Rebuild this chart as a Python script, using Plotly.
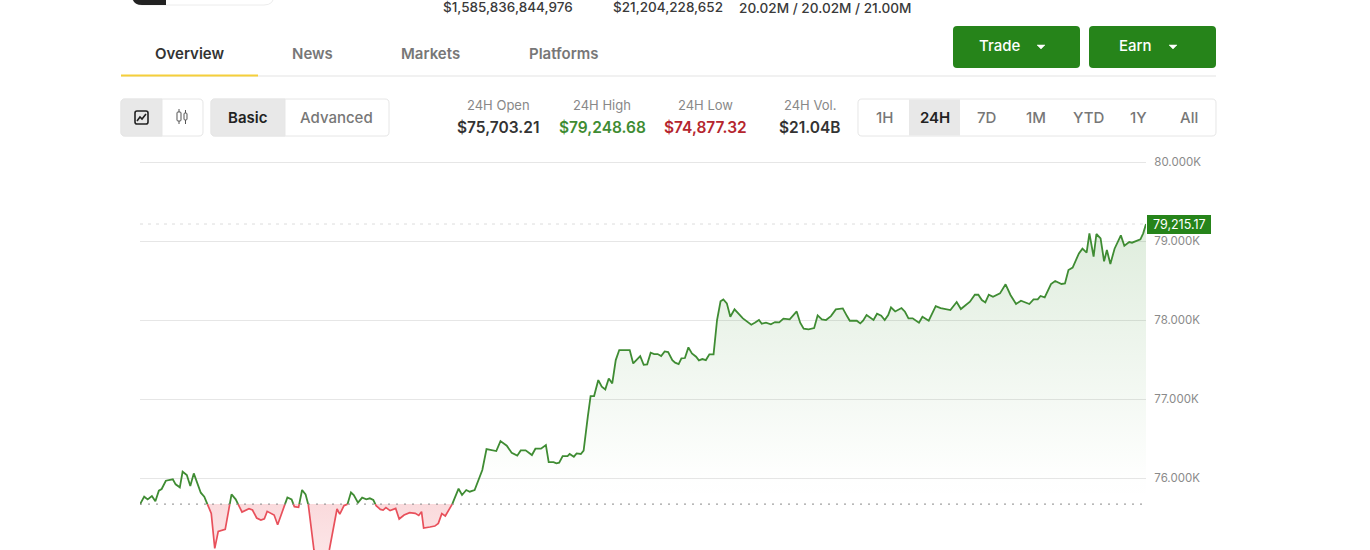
import plotly.graph_objects as go

# minutes since the start of the 24h window
minutes = [0, 6, 11, 17, 22, 27, 31, 37, 47, 51, 57, 61, 67, 72, 77, 87, 92, 96, 102, 107,
           112, 122, 131, 137, 146, 156, 161, 167, 173, 178, 182, 192, 197, 211, 217, 221, 227, 232, 237, 241,
           249, 253, 265, 271, 282, 286, 292, 297, 302, 306, 312, 318, 324, 329, 334, 338, 344, 348, 352, 358,
           366, 371, 378, 386, 394, 399, 403, 406, 415, 422, 427, 432, 437, 446, 456, 461, 467, 472, 479, 490,
           496, 510, 516, 525, 532, 540, 545, 552, 561, 566, 574, 581, 585, 592, 596, 600, 605, 612, 615, 621,
           625, 631, 635, 641, 645, 650, 656, 661, 666, 671, 676, 681, 686, 701, 706, 716, 721, 726, 731, 736,
           741, 746, 751, 756, 762, 766, 771, 775, 780, 785, 790, 796, 800, 805, 810, 815, 821, 826, 831, 835,
           840, 845, 851, 863, 875, 880, 886, 890, 896, 903, 909, 915, 921, 930, 940, 945, 950, 957, 965, 970,
           976, 982, 989, 996, 1006, 1012, 1016, 1026, 1031, 1035, 1040, 1050, 1055, 1061, 1066, 1071, 1075, 1081, 1090, 1095,
           1100, 1106, 1115, 1120, 1129, 1139, 1146, 1160, 1169, 1175, 1188, 1195, 1200, 1205, 1210, 1215, 1221, 1231, 1239, 1246,
           1254, 1261, 1273, 1279, 1285, 1289, 1295, 1304, 1310, 1319, 1324, 1329, 1335, 1344, 1349, 1355, 1359, 1365, 1369, 1375,
           1380, 1384, 1389, 1395, 1404, 1409, 1416, 1420, 1428, 1432, 1436, 1440]
prices = [75667, 75764, 75730, 75772, 75705, 75840, 75861, 75966, 75983, 75920, 75882, 76080, 76038, 75899, 76059, 75814, 75764, 75679, 75553, 75110,
          75325, 75350, 75793, 75730, 75570, 75612, 75595, 75494, 75468, 75485, 75578, 75532, 75409, 75755, 75730, 75637, 75629, 75848, 75793, 75658,
          75089, 74877, 74877, 75089, 75608, 75544, 75650, 75667, 75819, 75785, 75688, 75751, 75730, 75743, 75722, 75650, 75603, 75595, 75625, 75587,
          75616, 75481, 75532, 75561, 75553, 75527, 75574, 75367, 75380, 75392, 75426, 75549, 75519, 75650, 75865, 75785, 75848, 75827, 75848, 76101,
          76367, 76342, 76468, 76409, 76320, 76283, 76350, 76350, 76291, 76371, 76371, 76418, 76202, 76202, 76186, 76194, 76278, 76278, 76304, 76270,
          76312, 76304, 76346, 76776, 77038, 77038, 77240, 77156, 77122, 77261, 77198, 77493, 77620, 77620, 77451, 77544, 77434, 77439, 77586, 77569,
          77569, 77544, 77603, 77595, 77493, 77460, 77443, 77515, 77519, 77654, 77578, 77536, 77489, 77506, 77493, 77565, 77565, 78000, 78236, 78261,
          78211, 78042, 78135, 78021, 77941, 77966, 78000, 77953, 77966, 77945, 77974, 77970, 78017, 78008, 78109, 77966, 77890, 77882, 77898, 78059,
          78008, 78000, 78050, 78135, 78147, 78050, 77991, 77991, 77957, 77991, 78063, 78000, 78080, 78055, 78000, 78063, 78160, 78109, 78152, 78105,
          78021, 78021, 77966, 78042, 77991, 78177, 78152, 78126, 78228, 78139, 78232, 78320, 78320, 78253, 78223, 78320, 78295, 78337, 78452, 78317,
          78203, 78245, 78203, 78262, 78262, 78304, 78287, 78456, 78494, 78456, 78464, 78633, 78663, 78844, 78903, 78852, 79097, 78802, 79089, 79034,
          78743, 78886, 78709, 78903, 79072, 78941, 78987, 78979, 79013, 79021, 79097, 79215]

open_price = 75670
last_price = 79215.17
y_ticks = [76000, 77000, 78000, 79000, 80000]
y_labels = ['76.000K', '77.000K', '78.000K', '79.000K', '80.000K']
y_bottom = 75089
y_top = 80013

stat_names = ['24H Open', '24H High', '24H Low', '24H Vol.']
stat_values = ['$75,703.21', '$79,248.68', '$74,877.32', '$21.04B']
header_values = ['$1,585,836,844,976', '$21,204,228,652', '20.02M / 20.02M / 21.00M']
tabs = ['Overview', 'News', 'Markets', 'Platforms']
ranges = ['1H', '24H', '7D', '1M', 'YTD', '1Y', 'All']

GREEN = '#3f8c33'
RED = '#e8505b'
BTN = '#26841a'
FONT = 'Inter, Liberation Sans, sans-serif'
W, H = 1370, 550

# split the line where it crosses the open price
up_x, up_y, down_x, down_y = [], [], [], []
for i in range(len(minutes)):
    if i > 0 and (prices[i-1] - open_price) * (prices[i] - open_price) < 0:
        t = (open_price - prices[i-1]) / (prices[i] - prices[i-1])
        cross = minutes[i-1] + t * (minutes[i] - minutes[i-1])
        up_x.append(cross); up_y.append(open_price)
        down_x.append(cross); down_y.append(open_price)
        if prices[i] > open_price:
            down_x.append(None); down_y.append(None)
        else:
            up_x.append(None); up_y.append(None)
    if prices[i] >= open_price:
        up_x.append(minutes[i]); up_y.append(prices[i])
    else:
        down_x.append(minutes[i]); down_y.append(prices[i])


def X(px):
    return px / W


def Y(py):
    return 1 - py / H


def rounded(x0, y0, x1, y1, r=4, left=True, right=True):
    # rounded box path in page pixels
    p = ''
    if left:
        p += 'M %f,%f Q %f,%f %f,%f ' % (X(x0), Y(y0+r), X(x0), Y(y0), X(x0+r), Y(y0))
    else:
        p += 'M %f,%f ' % (X(x0), Y(y0))
    if right:
        p += 'L %f,%f Q %f,%f %f,%f L %f,%f Q %f,%f %f,%f ' % (X(x1-r), Y(y0), X(x1), Y(y0), X(x1), Y(y0+r),
                                                             X(x1), Y(y1-r), X(x1), Y(y1), X(x1-r), Y(y1))
    else:
        p += 'L %f,%f L %f,%f ' % (X(x1), Y(y0), X(x1), Y(y1))
    if left:
        p += 'L %f,%f Q %f,%f %f,%f Z' % (X(x0+r), Y(y1), X(x0), Y(y1), X(x0), Y(y1-r))
    else:
        p += 'L %f,%f Z' % (X(x0), Y(y1))
    return p


shapes = []
annotations = []


def box(x0, y0, x1, y1, fill='white', line=None, r=4, left=True, right=True, width=1):
    shapes.append(dict(type='path', xref='paper', yref='paper', path=rounded(x0, y0, x1, y1, r, left, right),
                       fillcolor=fill, line=dict(color=line or 'rgba(0,0,0,0)', width=width), layer='above'))


def stroke(points, color='#222', width=1.3, fill=None):
    p = 'M ' + ' L '.join('%f,%f' % (X(a), Y(b)) for a, b in points)
    if fill:
        p += ' Z'
    shapes.append(dict(type='path', xref='paper', yref='paper', path=p, fillcolor=fill,
                       line=dict(color=color, width=width), layer='above'))


def text(s, x, y, size=15, color='#777', weight=500, anchor='center'):
    annotations.append(dict(text=s, x=X(x), y=Y(y), xref='paper', yref='paper', showarrow=False,
                            xanchor=anchor, yanchor='middle', borderpad=0,
                            font=dict(family=FONT, size=size, color=color, weight=weight)))


# cut off pill at the top, only its bottom edge is on the page
box(132, -20, 274, 5, fill='white', line='#ececec', r=10)
box(132, -20, 166, 5, fill='#222', r=10, right=False)

# header numbers
text(header_values[0], 442, 7, size=13.5, color='#3a3a3a', anchor='left')
text(header_values[1], 612, 7, size=13.5, color='#3a3a3a', anchor='left')
text(header_values[2], 738, 7.5, size=13.6, color='#3a3a3a', anchor='left')

# tabs
tab_x = [189, 312, 430, 564]
for i in range(len(tabs)):
    text(tabs[i], tab_x[i], 54, size=15, color='#333' if i == 0 else '#777', weight=600)
shapes.append(dict(type='line', xref='paper', yref='paper', x0=X(121), x1=X(1216), y0=Y(76), y1=Y(76),
                   line=dict(color='#ececec', width=1.5)))
shapes.append(dict(type='line', xref='paper', yref='paper', x0=X(121), x1=X(258), y0=Y(75.5), y1=Y(75.5),
                   line=dict(color='#f5cf3a', width=2)))

# buttons
box(953, 26, 1080, 68, fill=BTN)
box(1089, 26, 1216, 68, fill=BTN)
text('Trade', 999, 46, color='white', size=15)
text('Earn', 1135, 46, color='white', size=15)
for cx in [1041, 1173]:
    stroke([(cx-4, 45), (cx+4, 45), (cx, 49)], color='white', width=0.5, fill='white')

# chart type toggle
box(121, 99, 203, 136, line='#e6e6e6')
box(121, 99, 162, 136, fill='#e8e8e8', line='#e6e6e6', right=False)
box(135, 111, 148, 124, fill='rgba(0,0,0,0)', line='#222', r=2, width=1.6)
stroke([(137, 121), (140, 117), (142, 119), (146, 114)], width=1.6)
box(177, 112, 181, 121, fill='rgba(0,0,0,0)', line='#555', r=1)
box(184, 113, 187, 120, fill='rgba(0,0,0,0)', line='#555', r=1)
stroke([(179, 109), (179, 112)], color='#555', width=1)
stroke([(179, 121), (179, 124)], color='#555', width=1)
stroke([(185.5, 110), (185.5, 113)], color='#555', width=1)
stroke([(185.5, 120), (185.5, 124)], color='#555', width=1)

box(211, 99, 389, 136, line='#e6e6e6')
box(211, 99, 285, 136, fill='#e8e8e8', line='#e6e6e6', right=False)
text('Basic', 248, 117, color='#222', weight=600)
text('Advanced', 336, 117)

# 24h stats
stat_x = [498, 602, 706, 810]
stat_colors = ['#333', GREEN, '#b5262e', '#333']
for i in range(4):
    text(stat_names[i], stat_x[i], 105, size=13, color='#888', weight=400)
    text(stat_values[i], stat_x[i], 128, size=15.5, color=stat_colors[i], weight=600)

# range buttons
box(858, 99, 1216, 136, line='#e6e6e6')
shapes.append(dict(type='rect', xref='paper', yref='paper', x0=X(909), x1=X(960), y0=Y(99.5), y1=Y(135.5),
                   fillcolor='#e8e8e8', line=dict(width=0), layer='above'))
range_x = [884, 935, 986, 1036, 1088, 1138, 1189]
for i in range(len(ranges)):
    text(ranges[i], range_x[i], 117, color='#222' if ranges[i] == '24H' else '#777',
         weight=600 if ranges[i] == '24H' else 500)

# reference lines
shapes.append(dict(type='line', xref='x', yref='y', x0=0, x1=1440, y0=last_price, y1=last_price,
                   line=dict(color='#dcdcdc', width=1, dash='3px,5px'), layer='below'))
shapes.append(dict(type='line', xref='x', yref='y', x0=0, x1=1440, y0=open_price, y1=open_price,
                   line=dict(color='#888', width=1, dash='2px,6px'), layer='above'))

# last price tag
shapes.append(dict(type='rect', xref='paper', yref='paper', x0=X(1147), x1=X(1211), y0=Y(215), y1=Y(234),
                   fillcolor=BTN, line=dict(width=0), layer='above'))
text('{:,.2f}'.format(last_price), 1179, 224.5, size=12.5, color='white', weight=400)

# gradient: green above the open price, red below
grad_low = 74877
grad_high = last_price
f = (open_price - grad_low) / (grad_high - grad_low)
colorscale = [[0, 'rgba(232,80,91,0.13)'], [f, 'rgba(232,80,91,0.21)'],
              [f + 0.0001, 'rgba(38,132,26,0)'], [f + 0.08, 'rgba(38,132,26,0.005)'],
              [1, 'rgba(38,132,26,0.15)']]

fig = go.Figure()
fig.add_trace(go.Scatter(x=minutes, y=[open_price] * len(minutes), mode='lines',
                         line=dict(width=0, color='rgba(0,0,0,0)'), hoverinfo='skip'))
fig.add_trace(go.Scatter(x=minutes, y=prices, mode='lines', line=dict(width=0, color='rgba(0,0,0,0)'),
                         fill='tonexty', hoverinfo='skip',
                         fillgradient=dict(type='vertical', colorscale=colorscale, start=grad_low, stop=grad_high)))
fig.add_trace(go.Scatter(x=down_x, y=down_y, mode='lines', line=dict(color=RED, width=1.7), hoverinfo='skip'))
fig.add_trace(go.Scatter(x=up_x, y=up_y, mode='lines', line=dict(color=GREEN, width=1.8), hoverinfo='skip'))

# autoexpand off, the header text at the page edge would push the margins
fig.update_layout(width=W, height=H, margin=dict(l=0, r=0, t=0, b=0, autoexpand=False), showlegend=False,
                  paper_bgcolor='white', plot_bgcolor='white',
                  shapes=shapes, annotations=annotations,
                  xaxis=dict(domain=[X(140), X(1146)], range=[0, 1440], visible=False, fixedrange=True),
                  yaxis=dict(domain=[0, Y(161)], range=[y_bottom, y_top], side='right', tickvals=y_ticks, ticktext=y_labels,
                             gridcolor='#e6e6e6', gridwidth=1, zeroline=False, showline=False, ticks='outside',
                             ticklen=5, tickcolor='white', fixedrange=True,
                             tickfont=dict(family=FONT, size=11.5, color='#8a8a8a')))

fig.write_html("out.html", config=dict(displayModeBar=False),
               post_script="document.body.style.margin='0';")
